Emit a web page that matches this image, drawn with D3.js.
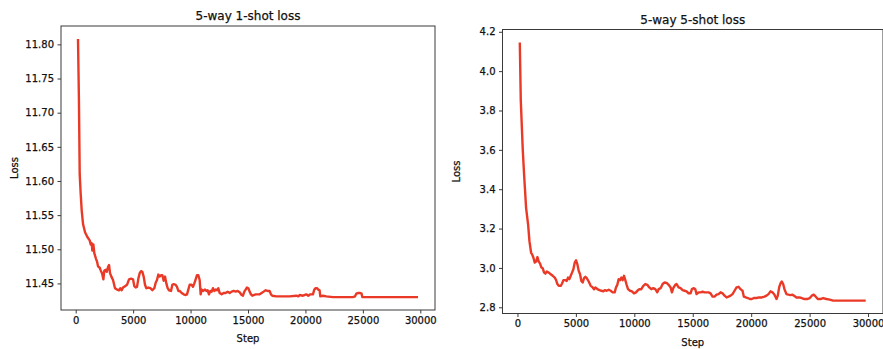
<!DOCTYPE html>
<html>
<head>
<meta charset="utf-8">
<script src="https://cdn.jsdelivr.net/npm/d3@7"></script>
<style>
  body { margin: 0; background: #fff; }
  svg { display: block; }
  text { font-family: "DejaVu Sans", sans-serif; fill: #111; stroke: #111; stroke-width: 0.25px; }
  .tick line { stroke: #3a3a3a; }
</style>
</head>
<body>
<script>
// 5-way 1-shot loss
var steps1 = [200, 280, 348, 435, 522, 638, 812, 1015, 1218, 1305, 1392, 1450, 1537, 1625, 1770, 1857, 1944, 2089, 2176, 2292,
  2408, 2495, 2611, 2698, 2814, 2901, 2988, 3104, 3249, 3423, 3597, 3771, 3887, 4003, 4119, 4293, 4467, 4641, 4815, 4990,
  5106, 5222, 5338, 5454, 5570, 5686, 5802, 5918, 6034, 6150, 6324, 6498, 6672, 6846, 6962, 7078, 7194, 7310, 7426, 7543,
  7659, 7775, 7891, 8007, 8123, 8297, 8413, 8529, 8703, 8819, 8935, 9051, 9225, 9399, 9573, 9689, 9805, 9921, 10096, 10212,
  10328, 10444, 10560, 10676, 10792, 10879, 10966, 11082, 11256, 11372, 11488, 11604, 11720, 11836, 11952, 12068, 12185, 12301, 12417, 12533,
  12707, 12881, 13055, 13229, 13403, 13577, 13751, 13925, 14099, 14273, 14447, 14563, 14679, 14795, 14911, 15027, 15143, 15259, 15375, 15491,
  15665, 15839, 16013, 16187, 16361, 16535, 16709, 16884, 17000, 17116, 17464, 18044, 18624, 19205, 19379, 19495, 19785, 20075, 20249, 20423,
  20539, 20655, 20771, 20887, 21003, 21119, 21235, 21293, 21525, 21816, 22396, 23266, 24137, 24311, 24427, 24601, 24775, 24891, 24949, 25296,
  26747, 28197, 29800];
var loss1 = [11.808, 11.720, 11.610, 11.581, 11.557, 11.537, 11.525, 11.518, 11.513, 11.507, 11.509, 11.498, 11.507, 11.494, 11.486, 11.482, 11.475, 11.473, 11.469, 11.465,
  11.456, 11.469, 11.470, 11.467, 11.474, 11.477, 11.465, 11.460, 11.455, 11.443, 11.441, 11.440, 11.443, 11.440, 11.444, 11.446, 11.448, 11.456, 11.457, 11.456,
  11.446, 11.444, 11.445, 11.457, 11.465, 11.468, 11.467, 11.460, 11.448, 11.443, 11.444, 11.443, 11.440, 11.443, 11.451, 11.455, 11.463, 11.460, 11.462, 11.462,
  11.454, 11.460, 11.450, 11.443, 11.440, 11.439, 11.448, 11.449, 11.448, 11.445, 11.439, 11.439, 11.436, 11.434, 11.433, 11.434, 11.441, 11.448, 11.448, 11.445,
  11.450, 11.456, 11.462, 11.462, 11.455, 11.434, 11.441, 11.439, 11.441, 11.439, 11.440, 11.434, 11.439, 11.438, 11.443, 11.439, 11.441, 11.440, 11.443, 11.436,
  11.434, 11.436, 11.436, 11.438, 11.436, 11.438, 11.439, 11.438, 11.439, 11.437, 11.433, 11.432, 11.438, 11.441, 11.444, 11.443, 11.438, 11.434, 11.432, 11.433,
  11.434, 11.434, 11.434, 11.436, 11.438, 11.440, 11.439, 11.439, 11.434, 11.432, 11.431, 11.431, 11.431, 11.432, 11.431, 11.433, 11.432, 11.434, 11.432, 11.434,
  11.434, 11.434, 11.441, 11.443, 11.443, 11.441, 11.440, 11.431, 11.432, 11.431, 11.430, 11.430, 11.430, 11.431, 11.435, 11.436, 11.436, 11.435, 11.430, 11.430,
  11.430, 11.430, 11.430];

// 5-way 5-shot loss
var steps5 = [200, 285, 456, 570, 740, 912, 1026, 1168, 1254, 1367, 1481, 1595, 1709, 1823, 1937, 2051, 2165, 2279, 2393, 2507,
  2678, 2849, 3020, 3191, 3305, 3419, 3533, 3704, 3818, 3932, 4103, 4217, 4331, 4445, 4558, 4672, 4786, 4900, 5014, 5128,
  5242, 5356, 5470, 5584, 5698, 5812, 5926, 6097, 6268, 6439, 6553, 6667, 6838, 7009, 7180, 7351, 7465, 7635, 7806, 7977,
  8148, 8319, 8433, 8547, 8661, 8775, 8889, 9003, 9117, 9231, 9345, 9459, 9630, 9801, 9972, 10143, 10313, 10427, 10598, 10769,
  10940, 11111, 11282, 11453, 11624, 11795, 11966, 12080, 12251, 12422, 12593, 12764, 12935, 13106, 13219, 13333, 13504, 13618, 13789, 13960,
  14131, 14302, 14473, 14644, 14815, 14929, 15100, 15214, 15328, 15499, 15670, 15841, 16012, 16183, 16354, 16524, 16695, 16866, 17037, 17208,
  17379, 17550, 17721, 17892, 18063, 18234, 18405, 18576, 18747, 18918, 19089, 19260, 19373, 19544, 19715, 19886, 20057, 20228, 20456, 20684,
  20912, 21140, 21311, 21482, 21653, 21824, 21995, 22166, 22279, 22393, 22507, 22621, 22735, 22849, 23020, 23191, 23362, 23533, 23704, 23875,
  24102, 24330, 24558, 24786, 25014, 25185, 25356, 25527, 25698, 25926, 26154, 26439, 26724, 27009, 27579, 28433, 29288, 29800];
var loss5 = [4.146, 3.850, 3.598, 3.472, 3.304, 3.220, 3.136, 3.077, 3.069, 3.052, 3.027, 3.032, 3.055, 3.032, 3.022, 3.002, 2.998, 2.976, 2.971, 2.982,
  2.976, 2.968, 2.960, 2.951, 2.938, 2.918, 2.909, 2.909, 2.921, 2.938, 2.938, 2.934, 2.951, 2.943, 2.960, 2.976, 2.993, 3.027, 3.039, 3.018,
  2.985, 2.968, 2.934, 2.926, 2.948, 2.955, 2.948, 2.931, 2.909, 2.901, 2.892, 2.901, 2.892, 2.887, 2.884, 2.881, 2.887, 2.884, 2.889, 2.884,
  2.876, 2.876, 2.901, 2.914, 2.943, 2.938, 2.951, 2.938, 2.960, 2.938, 2.914, 2.892, 2.884, 2.881, 2.871, 2.876, 2.887, 2.892, 2.892, 2.909,
  2.918, 2.914, 2.901, 2.892, 2.897, 2.892, 2.876, 2.892, 2.897, 2.918, 2.926, 2.924, 2.914, 2.901, 2.876, 2.897, 2.914, 2.918, 2.901, 2.897,
  2.887, 2.884, 2.881, 2.871, 2.871, 2.892, 2.897, 2.892, 2.867, 2.876, 2.876, 2.879, 2.876, 2.876, 2.876, 2.871, 2.854, 2.854, 2.864, 2.867,
  2.876, 2.871, 2.859, 2.850, 2.854, 2.859, 2.867, 2.884, 2.901, 2.904, 2.892, 2.884, 2.854, 2.850, 2.847, 2.842, 2.842, 2.847, 2.847, 2.850,
  2.850, 2.854, 2.859, 2.867, 2.881, 2.876, 2.864, 2.842, 2.859, 2.901, 2.921, 2.931, 2.918, 2.892, 2.867, 2.864, 2.862, 2.864, 2.857, 2.850,
  2.850, 2.847, 2.842, 2.842, 2.847, 2.859, 2.864, 2.854, 2.842, 2.842, 2.847, 2.842, 2.839, 2.834, 2.834, 2.834, 2.834, 2.834];

var xTicks = [0, 5000, 10000, 15000, 20000, 25000, 30000];
var yTicks1 = [11.45, 11.50, 11.55, 11.60, 11.65, 11.70, 11.75, 11.80];
var yTicks5 = [2.8, 3.0, 3.2, 3.4, 3.6, 3.8, 4.0, 4.2];

var lineColor = "#ea3a27";

var svg = d3.select("body").append("svg")
    .attr("width", 883)
    .attr("height", 349);

// matplotlib style 5% padding
function padded(vals) {
    var e = d3.extent(vals);
    var p = (e[1] - e[0]) * 0.05;
    return [e[0] - p, e[1] + p];
}

function drawPanel(box, steps, loss, yTicks, yFmt, title) {
    var x = d3.scaleLinear().domain(padded(steps)).range([box.left, box.right]);
    var y = d3.scaleLinear().domain(padded(loss)).range([box.bottom, box.top]);

    var g = svg.append("g");

    g.append("path")
        .datum(d3.range(steps.length))
        .attr("fill", "none")
        .attr("stroke", lineColor)
        .attr("stroke-width", 2.4)
        .attr("stroke-linejoin", "round")
        .attr("d", d3.line()
            .x(function (i) { return x(steps[i]); })
            .y(function (i) { return y(loss[i]); }));

    // frame
    g.append("rect")
        .attr("x", box.left)
        .attr("y", box.top)
        .attr("width", box.right - box.left)
        .attr("height", box.bottom - box.top)
        .attr("fill", "none")
        .attr("stroke", "#3a3a3a")
        .attr("stroke-width", 1);

    var xAxis = g.append("g")
        .attr("transform", "translate(0," + box.bottom + ")")
        .call(d3.axisBottom(x).tickValues(xTicks).tickFormat(d3.format("d")).tickSize(3.5).tickPadding(3));
    var yAxis = g.append("g")
        .attr("transform", "translate(" + box.left + ",0)")
        .call(d3.axisLeft(y).tickValues(yTicks).tickFormat(d3.format(yFmt)).tickSize(3.5).tickPadding(3.5));

    [xAxis, yAxis].forEach(function (a) {
        a.select(".domain").remove();
        a.selectAll("text").attr("font-size", 10).attr("fill", null).style("font-family", "DejaVu Sans");
    });

    var cx = (box.left + box.right) / 2;
    g.append("text")
        .attr("x", cx)
        .attr("y", box.top - 6)
        .attr("text-anchor", "middle")
        .attr("font-size", 12)
        .text(title);

    g.append("text")
        .attr("x", cx)
        .attr("y", box.bottom + 32)
        .attr("text-anchor", "middle")
        .attr("font-size", 10)
        .text("Step");

    g.append("text")
        .attr("transform", "translate(" + (box.left - 43) + "," + ((box.top + box.bottom) / 2) + ") rotate(-90)")
        .attr("text-anchor", "middle")
        .attr("font-size", 10)
        .text("Loss");
}

drawPanel({ left: 61, right: 435, top: 26, bottom: 310 }, steps1, loss1, yTicks1, ".2f", "5-way 1-shot loss");
drawPanel({ left: 502.5, right: 883, top: 29.5, bottom: 313.5 }, steps5, loss5, yTicks5, ".1f", "5-way 5-shot loss");
</script>
</body>
</html>
